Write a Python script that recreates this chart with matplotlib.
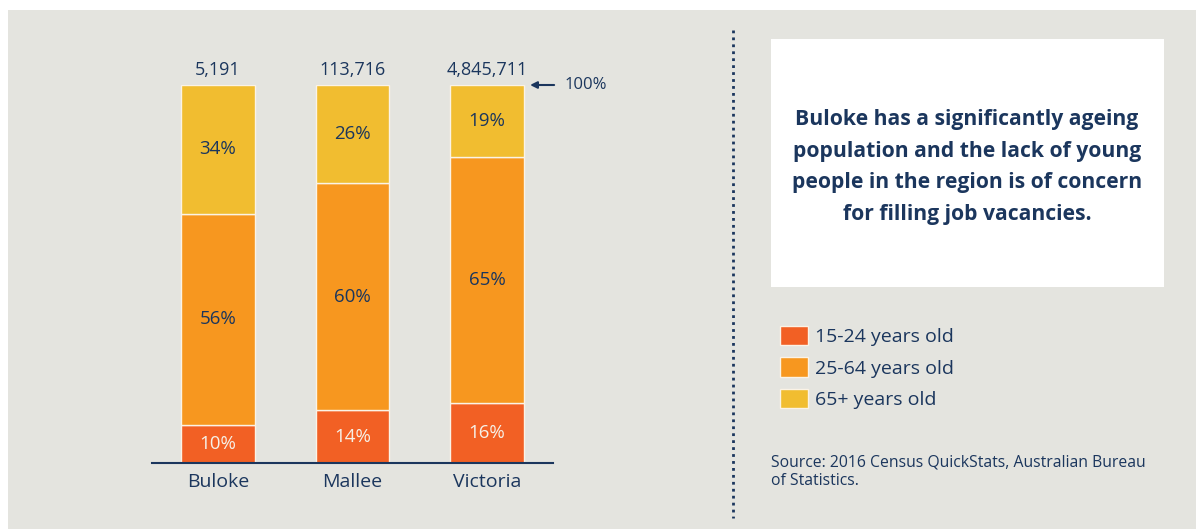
'''
age structure of Buloke, Mallee and Victoria (2016 census).
'''

import matplotlib
matplotlib.use("Agg")
import matplotlib.pyplot as plt
from matplotlib.patches import Rectangle
from matplotlib.lines import Line2D
import numpy as np


# data.
regions = ["Buloke", "Mallee", "Victoria"]
totals = ["5,191", "113,716", "4,845,711"]
age_groups = ["15-24 years old", "25-64 years old", "65+ years old"]
young = [10, 14, 16]
working = [56, 60, 65]
older = [34, 26, 19]

NAVY = "#1b365d"
BG = "#e4e4df"
COLOURS = ["#f26024", "#f7971f", "#f1bd30"]
FONT = "Open Sans"

W, H = 1196, 529
plt.rcParams["font.family"] = [FONT, "DejaVu Sans"]

fig = plt.figure(figsize=(W / 100, H / 100), dpi=100)
fig.patch.set_facecolor("white")


def fx(px):
    return px / W


def fy(py):
    return 1 - py / H


# grey panel behind everything, white strip at top and left.
fig.add_artist(Rectangle((fx(8), 0), 1 - fx(8), fy(10), transform=fig.transFigure,
                         facecolor=BG, edgecolor="none", zorder=0))

# bar axes, placed in pixel terms.
ax = fig.add_axes([fx(152), fy(463), fx(553) - fx(152), fy(85) - fy(463)])
ax.set_facecolor("none")
x = np.arange(len(regions))
width = 0.55

bottom = np.zeros(len(regions))
stacks = [young, working, older]
text_cols = ["#f6f1e8", NAVY, NAVY]
for vals, col, lab, tcol in zip(stacks, COLOURS, age_groups, text_cols):
    vals = np.array(vals, dtype=float)
    ax.bar(x, vals, width, bottom=bottom, color=col, edgecolor="#fbf3e6",
           linewidth=1, label=lab)
    for xi, b, v in zip(x, bottom, vals):
        ax.text(xi, b + v / 2, f"{int(v)}%", ha="center", va="center",
                fontsize=13.5, color=tcol)
    bottom += vals

for xi, t in zip(x, totals):
    ax.text(xi, 101.5, t, ha="center", va="bottom", fontsize=13, color=NAVY)

ax.set_xlim(-0.491, 2.491)
ax.set_ylim(0, 100)
for s in ["top", "left", "right"]:
    ax.spines[s].set_visible(False)
ax.spines["bottom"].set_color(NAVY)
ax.spines["bottom"].set_linewidth(1.5)
ax.set_yticks([])
ax.set_xticks(x)
ax.set_xticklabels(regions, fontsize=14, color=NAVY)
ax.tick_params(axis="x", length=0, pad=7)

# 100% marker next to the Victoria bar.
ax.annotate("", xy=(2.3, 100), xytext=(2.52, 100), annotation_clip=False,
            arrowprops=dict(arrowstyle="-|>", color=NAVY, lw=1.5, mutation_scale=10))
ax.text(2.58, 100, "100%", ha="left", va="center", fontsize=12, color=NAVY,
        clip_on=False)

# dotted divider.
fig.add_artist(Line2D([fx(733), fx(733)], [fy(30), fy(518)], transform=fig.transFigure,
                      color=NAVY, linestyle=(0, (1, 1.5)), linewidth=2))

# white callout box.
fig.add_artist(Rectangle((fx(771), fy(287)), fx(1164) - fx(771), fy(39) - fy(287),
                         transform=fig.transFigure, facecolor="white",
                         edgecolor="none", zorder=1))
fig.text(fx(967), fy(167),
         "Buloke has a significantly ageing\npopulation and the lack of young\n"
         "people in the region is of concern\nfor filling job vacancies.",
         ha="center", va="center", fontsize=15.2, fontweight="bold", color=NAVY,
         linespacing=1.66, zorder=2)

# legend.
handles, labels = ax.get_legend_handles_labels()
fig.legend(handles, labels, loc="upper left", bbox_to_anchor=(fx(772), fy(318)),
           frameon=False, fontsize=14, handlelength=1.45, handleheight=1.15,
           handletextpad=0.35, labelspacing=0.58, labelcolor=NAVY, borderaxespad=0)

fig.text(fx(771), fy(472), "Source: 2016 Census QuickStats, Australian Bureau\nof Statistics.",
         ha="left", va="center", fontsize=11.3, color=NAVY, linespacing=1.2)

fig.savefig("out.png", dpi=100, facecolor=fig.get_facecolor())
